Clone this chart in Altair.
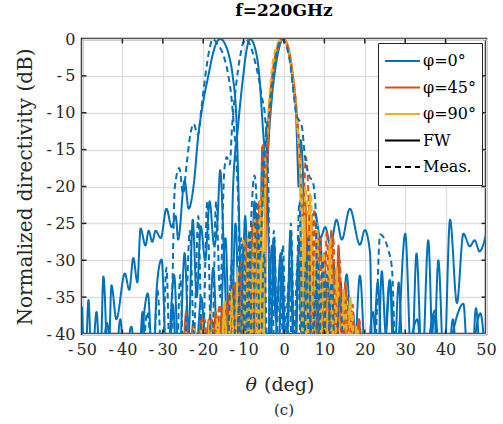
import altair as alt
import pandas as pd

BLUE = "#0072BD"
ORANGE = "#D95319"
YELLOW = "#EDB120"
INK = "#262626"
FONT = "DejaVu Serif"

# ---------------- data (-45 = below the -40 dB floor) ----------------
# phi = 0 deg, full-wave, beam steered to about -16 deg
fwA_theta = [-50, -49.2, -48.4, -47.6, -46.4, -45.5, -44.7, -43.5, -42.7, -41.5, -39.4, -38.3, -37.3, -36.3,
             -35.5, -34.3, -33.5, -32.6, -31.8, -30.5, -29.1, -27.8, -26.8, -26.2, -24.6, -23.6, -22.4, -21.2,
             -20.0, -18.7, -17.5, -16.5, -15.7, -14.5, -13.5, -12.7, -11.8, -11.3, -10.9, -10.4, -9.3, -8.3,
             -7.2, -6.2, -5.2, -4.2, -3.0, -2.0, -0.8, 0.3, 1.5, 2.6, 3.8, 4.9, 6.3, 7.7, 9.0, 10.2, 11.5,
             13.0, 14.3, 16.3, 18.8, 20.0, 21.3, 21.9, 23.2, 24.4, 26.2, 27.7, 30.0, 31.6, 32.8, 34.2, 35.7,
             37.0, 38.2, 39.6, 41.1, 42.8, 44.4, 46.0, 47.2, 48.4, 50.0]
fwA_db = [-36.3, -45, -35.4, -45, -37.0, -45, -32.2, -45, -33.4, -38, -31.8, -34, -29.7, -33,
          -25.7, -28, -26, -27.5, -26, -27, -23, -25.5, -24, -27.2, -19.2, -23, -20, -13,
          -8.5, -4.9, -1.8, -0.3, 0, -0.8, -2.5, -5, -10.7, -19.8, -30, -45, -30, -45,
          -27, -45, -31, -45, -28, -38, -29, -45, -31, -45, -27, -40, -25, -23.6, -27, -25.5, -28,
          -24.5, -27.2, -23, -27.9, -25.9, -29, -45, -33, -45, -32.7, -45, -26.4, -45, -29.1, -45, -27.3,
          -45, -30, -45, -24.5, -35.8, -26.4, -28.1, -27.3, -28.8, -26.5]

# phi = 0 deg, full-wave, beam steered to about -8 deg
fwB_theta = [-41.5, -40.5, -39.5, -37.8, -36.5, -33.7, -32.5, -31.4, -30.3, -29.0, -27.2, -26.0, -24.6,
             -23.6, -22.6, -21.6, -20.6, -19.5, -18.4, -17.3, -16.5, -15.8, -14.8, -13.6, -12.6, -11.4,
             -10.1, -9.2, -8.4, -7.3, -6.2, -5.1, -4.3, -3.8, -3.4, -2.5, -1.5, -0.5, 0.5, 1.6, 2.7, 3.6,
             4.6, 5.8, 7.0, 8.0, 9.2, 10.2, 11.3, 12.2, 13.8, 15.5, 17.2, 18.8, 20.3, 22.0, 23.2, 24.2,
             25.2, 26.2, 27.2, 28.4, 29.5, 33.0, 34.3, 37.4, 38.6, 44.4, 45.6, 48.6, 50.0]
fwB_db = [-45, -38, -45, -39, -45, -34.5, -45, -33, -29.9, -45, -32, -45, -29,
          -40, -24.5, -35, -25.4, -30, -22, -28, -25, -17.8, -30, -45, -20, -12,
          -5, -1.3, 0, -1, -4.5, -13, -18.4, -28, -45, -27, -45, -30, -45, -26, -45, -30,
          -45, -29, -45, -31, -45, -33, -45, -30, -45, -31.9, -45, -32.1, -45, -37, -45, -31.5,
          -40, -32.7, -45, -33, -45, -38, -45, -36.8, -45, -35.9, -45, -37.2, -45]

# phi = 0 deg, full-wave, broadside beam
fwC_theta = [-45.0, -43.8, -42.5, -36.0, -35.0, -34.0, -28.5, -27.5, -26.5, -22.0, -20.5, -19.0, -17.5,
             -16.3, -14.5, -13.3, -12.0, -10.8, -9.6, -8.5, -7.3, -6.4, -5.3, -4.6, -4.0, -3.0, -2.0,
             -1.0, -0.3, 0.5, 1.5, 2.3, 3.0, 3.4, 3.6, 4.1, 4.8, 5.3, 6.5, 7.8, 9.0, 10.2, 11.5, 12.7,
             14.0, 15.3, 17.0, 18.2, 36.0, 37.2, 38.4, 40.5, 41.8, 43.0, 46.5, 47.5, 48.5]
fwC_db = [-45, -38.5, -45, -45, -37, -45, -45, -36, -45, -45, -35, -45, -31,
          -45, -27, -45, -25, -45, -24, -45, -22, -45, -14.5, -25, -16, -8, -3.5,
          -0.8, 0, -0.5, -2.8, -6.5, -10.5, -17, -20, -13.7, -20, -45, -25, -45, -27, -45, -28, -45,
          -33, -45, -37, -45, -45, -37.5, -45, -45, -38, -45, -45, -36.5, -45]

# phi = 0 deg, measured, beam near -17.6 deg
msA_theta = [-35.0, -33.8, -32.5, -31.3, -30.2, -29.1, -28.2, -27.0, -25.9, -25.0, -24.1, -23.2, -22.4,
             -21.3, -20.4, -19.4, -18.5, -17.6, -16.6, -15.0, -13.8, -12.9, -12.5, -11.7, -11.2, -10.9,
             -10.0, -9.2, -8.1, -7.3, -6.6, -5.9, -4.9, -4.0, -3.0, -2.2, -1.0, 0.0, 1.2, 2.2, 3.4, 4.4,
             5.5, 6.4, 8.0, 9.2, 22.3, 23.8, 25.8, 26.7, 27.5]
msA_db = [-45, -37, -45, -34, -45, -31, -45, -20, -17.5, -21, -17, -13, -11.5,
          -13, -9.2, -4.7, -1.5, 0, -0.6, -2.2, -4.9, -8.5, -11.2, -17.5, -25, -45,
          -28, -45, -24, -18.5, -25, -45, -29, -45, -33, -45, -31, -45, -33, -45, -30, -45,
          -30, -45, -34, -45, -45, -26.5, -28.6, -31, -45]

# phi = 0 deg, measured, beam near -9.6 deg
msB_theta = [-28.5, -27.4, -26.6, -25.7, -24.8, -23.3, -22.3, -21.2, -20.2, -19.0, -17.9, -16.8, -15.8,
             -14.8, -14.2, -13.4, -12.9, -11.8, -10.9, -9.6, -8.4, -7.2, -6.2, -5.5, -4.7, -4.2, -3.8,
             -3.5, -2.5, -1.5, -0.3, 0.7, 1.7, 2.7, 3.8, 4.8, 6.0, 7.0, 8.3, 9.3, 10.6, 11.6]
msB_db = [-45, -37, -45, -32, -45, -26, -40, -24, -45, -22, -45, -22, -35,
          -18, -16, -17, -12.3, -6, -2.5, 0, -0.8, -3, -5.5, -7.8, -10.5, -15, -22,
          -45, -26, -45, -28, -45, -25, -45, -22, -45, -27, -45, -30, -45, -32, -45]

# phi = 0 deg, measured, broadside beam
msC_theta = [-14.0, -12.8, -11.8, -10.6, -9.6, -8.6, -7.8, -6.8, -6.0, -5.2, -4.4, -3.6, -2.8, -1.8,
             -0.6, 0.5, 1.5, 2.3, 3.1, 4.4, 5.2, 6.2, 7.2, 7.9, 8.5, 9.6, 10.6, 11.8, 12.8, 13.8, 14.8]
msC_db = [-45, -30, -45, -27, -45, -26, -45, -22, -30, -20, -12.5, -10, -5.5, -1.8,
          0, -0.8, -3.2, -7, -10.3, -11.8, -16, -18.5, -19.5, -24, -45, -30, -45, -33, -45, -35, -45]

# phi = 45 deg, full-wave
fw45_theta = [-25.0, -24.2, -23.4, -22.5, -21.6, -20.5, -19.6, -18.6, -17.8, -16.9, -16.1, -15.2, -14.4,
              -13.5, -12.7, -11.9, -11.2, -10.6, -9.9, -9.1, -8.4, -7.6, -6.9, -6.1, -5.3, -4.9, -4.4,
              -3.8, -3.0, -2.0, -1.0, -0.2, 0.6, 1.5, 2.4, 3.2, 3.8, 4.2, 4.6, 5.3, 6.0, 6.8, 7.6, 8.4,
              9.2, 10.0, 10.8, 11.7, 12.6, 13.5, 14.3, 15.2, 16.0, 16.9, 17.7, 18.5, 19.3]
fw45_db = [-45, -37, -45, -38.5, -45, -37.5, -45, -38, -45, -37, -45, -36.5, -45,
           -34.5, -45, -33, -45, -30, -45, -29, -45, -25, -45, -22, -45, -45, -22,
           -13, -6.5, -2.5, -0.5, 0, -0.4, -2.2, -5.8, -10.5, -16, -23, -45, -22, -45, -24, -45, -27,
           -45, -29, -45, -26, -45, -28, -45, -33, -45, -37, -45, -38, -45]

# phi = 90 deg, full-wave
fw90_theta = [-23.0, -22.1, -21.2, -20.1, -19.2, -18.2, -17.3, -16.3, -15.5, -14.7, -13.9, -13.0, -12.2,
              -11.4, -10.6, -9.8, -9.0, -8.2, -7.5, -6.8, -6.1, -5.5, -5.0, -4.6, -3.9, -3.1, -2.2, -1.2,
              -0.4, 0.4, 1.3, 2.2, 3.0, 3.7, 4.1, 4.5, 5.0, 5.7, 6.4, 7.2, 8.0, 8.8, 9.6, 10.4, 11.2,
              12.1, 13.0, 13.9, 14.8, 15.6, 16.4, 17.2, 18.0, 18.8]
fw90_db = [-45, -39, -45, -38.5, -45, -37, -45, -37.5, -45, -35.5, -45, -34, -45,
           -31, -45, -28, -45, -27, -45, -24, -45, -20, -45, -20, -11.5, -5.8, -2.2, -0.4,
           0, -0.4, -2.0, -5.2, -9.5, -15, -21, -45, -24, -45, -21, -45, -26, -45, -30, -45, -28,
           -45, -31, -45, -34, -45, -35, -45, -39, -45]

# phi = 45 deg, measured
ms45_theta = [-20.5, -19.6, -18.8, -17.9, -17.0, -16.0, -15.1, -14.2, -13.3, -12.4, -11.6, -10.8, -10.1,
              -9.4, -8.7, -8.0, -7.3, -6.7, -6.0, -5.2, -4.7, -4.2, -3.5, -2.6, -1.6, -0.6, 0.3, 1.2,
              2.1, 3.0, 3.7, 4.2, 4.7, 5.4, 6.1, 6.8, 7.5, 8.3, 9.0, 9.8, 10.6, 11.4, 12.2, 13.0, 13.8,
              14.6, 15.4, 16.2, 17.0, 17.8, 18.6, 19.4]
ms45_db = [-45, -38, -45, -37.7, -45, -36, -45, -36, -45, -33, -45, -31, -45,
           -27, -45, -25, -45, -24, -30, -14.1, -20, -14, -8, -3.8, -1.2, 0, -0.3, -1.8,
           -4.8, -9, -14, -19, -24, -16, -22, -45, -23, -45, -27, -45, -26, -45, -27, -45, -30,
           -45, -34, -45, -36, -45, -38, -45]

# phi = 90 deg, measured
ms90_theta = [-19.0, -18.2, -17.4, -16.6, -15.7, -14.8, -14.0, -13.1, -12.3, -11.5, -10.8, -10.1, -9.5,
              -8.8, -8.1, -7.3, -6.6, -5.9, -5.2, -4.6, -3.9, -3.0, -2.0, -1.0, -0.5, 0.4, 1.3, 2.2,
              3.0, 3.7, 4.2, 4.7, 5.3, 6.0, 6.7, 7.4, 8.2, 9.0, 9.8, 10.6, 11.5, 12.4, 13.3, 14.2,
              15.1, 16.0, 16.8, 17.6]
ms90_db = [-45, -39, -45, -38, -45, -37, -45, -35, -45, -33, -45, -27, -45,
           -26, -45, -24.5, -45, -22, -45, -17, -10, -4, -1.2, -0.1, 0, -0.6, -2.4, -5.8,
           -10, -15, -20, -30, -20, -24, -21, -45, -25, -45, -29, -45, -27, -45, -33, -45,
           -35, -45, -37, -45]

x_ticks = [-50, -40, -30, -20, -10, 0, 10, 20, 30, 40, 50]
y_ticks = [-40, -35, -30, -25, -20, -15, -10, -5, 0]
legend_labels = ["φ=0°", "φ=45°", "φ=90°", "FW", "Meas."]
legend_colors = [BLUE, ORANGE, YELLOW, "black", "black"]
legend_dashes = [[1, 0], [1, 0], [1, 0], [1, 0], [6, 4]]

# ---------------- assemble ----------------
curves = [
    ("fwA", "φ=0°", "FW", fwA_theta, fwA_db),
    ("fwB", "φ=0°", "FW", fwB_theta, fwB_db),
    ("fwC", "φ=0°", "FW", fwC_theta, fwC_db),
    ("fw45", "φ=45°", "FW", fw45_theta, fw45_db),
    ("fw90", "φ=90°", "FW", fw90_theta, fw90_db),
    ("ms45", "φ=45°", "Meas.", ms45_theta, ms45_db),
    ("ms90", "φ=90°", "Meas.", ms90_theta, ms90_db),
    ("msA", "φ=0°", "Meas.", msA_theta, msA_db),
    ("msB", "φ=0°", "Meas.", msB_theta, msB_db),
    ("msC", "φ=0°", "Meas.", msC_theta, msC_db),
]
rows = []
for name, phi, kind, th, db in curves:
    for i, (t, d) in enumerate(zip(th, db)):
        rows.append({"series": name, "phi": phi, "kind": kind, "theta": t, "db": d, "i": i})
df = pd.DataFrame(rows)

xscale = alt.Scale(domain=[-50, 50], nice=False, zero=False)
yscale = alt.Scale(domain=[-40, 0], nice=False, zero=False)

label_expr = "datum.value < 0 ? '-\u2009' + abs(datum.value) : '' + datum.value"

xaxis = alt.Axis(values=x_ticks, title=None, labelFlush=False, labelOverlap=False,
                 labelFont=FONT, labelFontSize=16, labelColor=INK, labelPadding=7,
                 labelExpr=label_expr, domain=False, ticks=False, grid=True,
                 gridColor="#dedede", gridWidth=1.3)
yaxis = alt.Axis(values=y_ticks, tickCount=9, title="Normalized directivity (dB)", labelFlush=False,
                 labelOverlap=False, labelFont=FONT, labelFontSize=16, labelColor=INK,
                 labelPadding=7, labelExpr=label_expr, titleFont=FONT, titleFontSize=20,
                 titleFontWeight="normal", titleColor=INK, titlePadding=11, domain=False,
                 ticks=False, grid=True, gridColor="#dedede", gridWidth=1.3)

color_enc = alt.Color("phi:N", scale=alt.Scale(domain=legend_labels, range=legend_colors),
                      legend=alt.Legend(title=None))
dash_enc = alt.StrokeDash("kind:N", scale=alt.Scale(domain=legend_labels, range=legend_dashes),
                          legend=alt.Legend(title=None))

def layer_for(names):
    return alt.Chart(df[df["series"].isin(names)]).mark_line(
        clip=True, strokeWidth=2, interpolate="monotone"
    ).encode(
        x=alt.X("theta:Q", scale=xscale, axis=xaxis),
        y=alt.Y("db:Q", scale=yscale, axis=yaxis),
        color=color_enc,
        strokeDash=dash_enc,
        detail="series:N",
        order="i:Q",
    )

layers = [
    layer_for(["fwA", "fwB", "fwC"]),
    layer_for(["fw45"]),
    layer_for(["fw90"]),
    layer_for(["ms45"]),
    layer_for(["ms90"]),
    layer_for(["msA", "msB", "msC"]),
]

# inward tick marks on all four sides (drawn through the scales)
inner_x = x_ticks[1:-1]
inner_y = y_ticks[1:-1]
xt = pd.DataFrame({"theta": inner_x * 2,
                   "db": [-40] * len(inner_x) + [0] * len(inner_x),
                   "db2": [-39.4] * len(inner_x) + [-0.6] * len(inner_x)})
yt = pd.DataFrame({"db": inner_y * 2,
                   "theta": [-50] * len(inner_y) + [50] * len(inner_y),
                   "theta2": [-48.9] * len(inner_y) + [48.9] * len(inner_y)})
tick_style = dict(color=INK, strokeWidth=1.5)
ticks = [
    alt.Chart(xt).mark_rule(**tick_style).encode(
        x=alt.X("theta:Q", scale=xscale, axis=xaxis),
        y=alt.Y("db:Q", scale=yscale, axis=yaxis), y2="db2:Q"),
    alt.Chart(yt).mark_rule(**tick_style).encode(
        y=alt.Y("db:Q", scale=yscale, axis=yaxis),
        x=alt.X("theta:Q", scale=xscale, axis=xaxis), x2="theta2:Q"),
]

text_df = pd.DataFrame({"a": ["θ"], "b": ["(deg)"], "c": ["(c)"]})
xtitle_theta = alt.Chart(text_df).mark_text(
    font=FONT, fontSize=19, fontStyle="italic", color=INK, align="right", baseline="middle"
).encode(text="a:N", x=alt.value(175), y=alt.value(346))
xtitle_unit = alt.Chart(text_df).mark_text(
    font=FONT, fontSize=19, color=INK, align="left", baseline="middle"
).encode(text="b:N", x=alt.value(182), y=alt.value(346))
caption = alt.Chart(text_df).mark_text(
    font=FONT, fontSize=15, color=INK, align="center", baseline="middle"
).encode(text="c:N", x=alt.value(202), y=alt.value(371))

chart = alt.layer(*layers, *ticks, xtitle_theta, xtitle_unit, caption).properties(
    width=404, height=295,
    title=alt.TitleParams("f=220GHz", font=FONT, fontSize=17, fontWeight="bold", color="black",
                          anchor="middle", offset=11),
    autosize=alt.AutoSizeParams(type="none"),
    padding={"left": 82, "top": 39, "right": 17, "bottom": 90},
).configure_view(
    stroke=INK, strokeWidth=2.5
).configure_legend(
    orient="top-right", offset=4, strokeColor=INK, fillColor="white", padding=6,
    labelFont=FONT, labelFontSize=16, labelColor="black", symbolType="stroke",
    symbolStrokeWidth=2, symbolSize=1225, clipHeight=24, rowPadding=2.5, labelOffset=2
)

chart.save("out.html", embed_options={"renderer": "svg", "actions": False})
